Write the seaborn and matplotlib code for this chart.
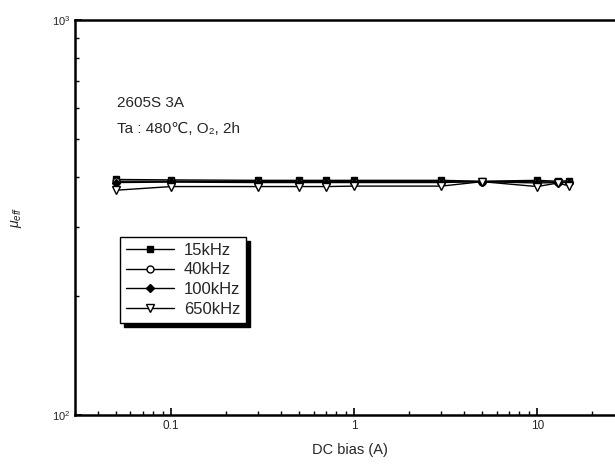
import numpy as np
import pandas as pd
import seaborn as sns
import matplotlib.pyplot as plt
from matplotlib.ticker import LogLocator, NullFormatter, FixedLocator

# DC bias (A) and effective permeability
dc_bias = [0.05, 0.1, 0.3, 0.5, 0.7, 1.0, 3.0, 5.0, 10.0, 13.0, 15.0]
mu_15k = [395, 394, 393, 393, 393, 393, 393, 391, 393, 391, 392]
mu_40k = [391, 391, 390, 390, 390, 390, 390, 390, 390, 389, 389]
mu_100k = [388, 389, 388, 388, 388, 388, 388, 390, 387, 388, 388]
mu_650k = [371, 379, 379, 379, 379, 380, 380, 390, 379, 387, 380]

series_names = ['15kHz', '40kHz', '100kHz', '650kHz']
series_values = [mu_15k, mu_40k, mu_100k, mu_650k]
series_markers = ['s', 'o', 'D', 'v']
series_fill = ['black', 'white', 'black', 'white']
series_msize = [5, 5, 4, 5.5]

sns.set_style("ticks")
plt.rcParams['font.family'] = ['Liberation Sans', 'DejaVu Sans']
plt.rcParams['mathtext.fontset'] = 'custom'
plt.rcParams['mathtext.rm'] = 'Liberation Sans'
plt.rcParams['mathtext.it'] = 'Liberation Sans:italic'

df = pd.DataFrame({'bias': np.tile(dc_bias, 4),
                   'mu': np.concatenate(series_values),
                   'freq': np.repeat(series_names, len(dc_bias))})

fig = plt.figure(figsize=(6.15, 4.7), dpi=100)
ax = fig.add_axes([0.1225, 0.117, 0.893, 0.840])

for name, mk, fc, ms in zip(series_names, series_markers, series_fill, series_msize):
    sub = df[df['freq'] == name]
    sns.lineplot(data=sub, x='bias', y='mu', ax=ax, color='black', lw=1.0,
                 marker=mk, markersize=ms, markerfacecolor=fc,
                 markeredgecolor='black', markeredgewidth=1.0, label=name)

ax.set_xscale('log')
ax.set_yscale('log')
ax.set_xlim(0.03, 30)
ax.set_ylim(100, 1000)

ax.xaxis.set_major_locator(FixedLocator([0.1, 1, 10]))
ax.set_xticklabels(['0.1', '1', '10'], fontsize=8.5)
ax.xaxis.set_minor_locator(LogLocator(base=10, subs=np.arange(2, 10)))
ax.xaxis.set_minor_formatter(NullFormatter())
ax.yaxis.set_major_locator(FixedLocator([100, 1000]))
ax.set_yticklabels(['10$^2$', '10$^3$'], fontsize=8)
ax.yaxis.set_minor_locator(LogLocator(base=10, subs=np.arange(2, 10)))
ax.yaxis.set_minor_formatter(NullFormatter())
ax.tick_params(which='both', direction='in', color='black')
ax.tick_params(which='major', length=5, width=1.2)
ax.tick_params(which='minor', length=3, width=1.0)

for sp in ax.spines.values():
    sp.set_linewidth(1.8)
    sp.set_color('black')

ax.set_xlabel('DC bias (A)', fontsize=10.5, labelpad=8)
ax.set_ylabel(r'$\mu_{eff}$', fontsize=10, labelpad=20)

ax.text(0.076, 0.78, '2605S 3A', transform=ax.transAxes, fontsize=11)
ax.text(0.076, 0.715, 'Ta : 480\u2103, O\u2082, 2h', transform=ax.transAxes, fontsize=11)

leg = ax.legend(loc='upper left', bbox_to_anchor=(0.066, 0.472), frameon=True,
                fancybox=False, edgecolor='black', fontsize=12,
                handlelength=2.9, handletextpad=0.6, labelspacing=0.28,
                borderpad=0.35,
                shadow={'color': 'black', 'alpha': 1.0, 'ox': 3, 'oy': -3})
leg.get_frame().set_linewidth(1.0)
leg.get_frame().set_facecolor('white')

fig.savefig('out.png', dpi=100)
